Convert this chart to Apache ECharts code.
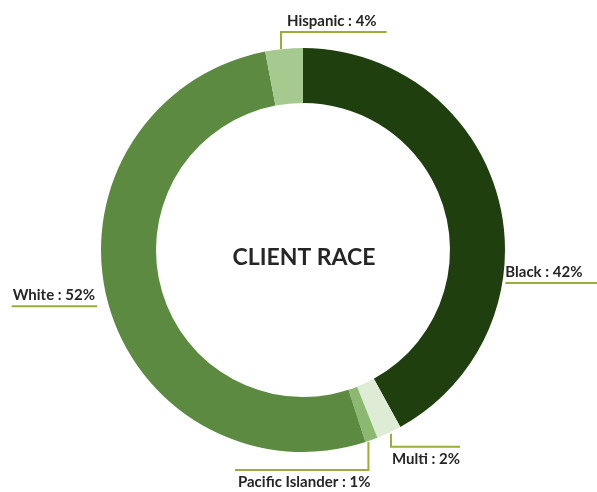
<!DOCTYPE html>
<html>
<head>
<meta charset="utf-8">
<script src="https://cdn.jsdelivr.net/npm/echarts@6/dist/echarts.min.js"></script>
<style>
  html, body { margin: 0; padding: 0; background: #fff; }
  #chart { width: 597px; height: 492px; }
</style>
</head>
<body>
<div id="chart"></div>
<script>
// data
const races = ['Black', 'Multi', 'Pacific Islander', 'White', 'Hispanic']
// slice sizes as measured on the ring, percent labels as printed
const sliceValues = [42, 2, 1, 52, 3]
const shareLabels = ['42%', '2%', '1%', '52%', '4%']
const sliceColors = ['#1f3f0e', '#deecd5', '#8cb872', '#5b8a40', '#a6c98f']
const chartTitle = 'CLIENT RACE'

const CX = 303
const CY = 250
const R_IN = 147
const R_OUT = 202
const LINE_COLOR = '#9aad3e'
const FONT = 'Lato'

const total = sliceValues.reduce((s, v) => s + v, 0)

// point on the outer edge at the middle of slice i (clockwise from 12 o'clock)
function anchor(i) {
  let before = 0
  for (let k = 0; k < i; k++) before += sliceValues[k]
  const ang = ((before + sliceValues[i] / 2) / total) * Math.PI * 2
  return [CX + R_OUT * Math.sin(ang), CY - R_OUT * Math.cos(ang)]
}
function ringX(y, side) {
  return CX + side * Math.sqrt(R_OUT * R_OUT - (y - CY) * (y - CY))
}
function ringY(x) {
  return CY + Math.sqrt(R_OUT * R_OUT - (x - CX) * (x - CX))
}

// excel style labels: text sits on an underline, small slices get a leader
function placeLabel(p) {
  const a = anchor(p.dataIndex)
  const w = p.labelRect.width
  const name = races[p.dataIndex]
  if (name === 'Hispanic') {
    const vx = a[0] - 3
    const ly = 32
    return {
      x: vx + 6, y: ly - 11, align: 'left', verticalAlign: 'middle',
      labelLinePoints: [[vx, a[1]], [vx, ly], [vx + w + 16, ly]],
    }
  }
  if (name === 'Black') {
    const ly = CY + 33
    const x0 = ringX(ly, 1) + 3
    return {
      x: x0, y: ly - 11, align: 'left', verticalAlign: 'middle',
      labelLinePoints: [[x0, ly], [x0 + w + 16, ly]],
    }
  }
  if (name === 'White') {
    const ly = a[1] + 6
    const x1 = ringX(ly, -1) - 12
    return {
      x: x1 - 2, y: ly - 11, align: 'right', verticalAlign: 'middle',
      labelLinePoints: [[x1 - w - 3, ly], [x1, ly]],
    }
  }
  if (name === 'Multi') {
    const vx = a[0] + 2
    const y0 = ringY(vx) + 2
    const ly = y0 + 13
    return {
      x: vx + 1, y: ly + 12, align: 'left', verticalAlign: 'middle',
      labelLinePoints: [[vx, y0], [vx, ly], [vx + w + 1, ly]],
    }
  }
  // Pacific Islander
  const vx = a[0] - 3
  const y0 = ringY(vx) + 1
  const ly = y0 + 28
  return {
    x: vx + 2, y: ly + 12, align: 'right', verticalAlign: 'middle',
    labelLinePoints: [[vx, y0], [vx, ly], [vx - w - 1, ly]],
  }
}

const chart = echarts.init(document.getElementById('chart'))
chart.setOption({
  animation: false,
  backgroundColor: '#fff',
  title: {
    text: chartTitle,
    left: CX - 4,
    top: 253,
    textAlign: 'center',
    textVerticalAlign: 'middle',
    textStyle: {
      fontFamily: FONT,
      fontWeight: 'bold',
      fontSize: 23,
      color: '#262626',
    },
  },
  series: [
    {
      type: 'pie',
      center: [CX, CY],
      radius: [R_IN, R_OUT],
      startAngle: 90,
      clockwise: true,
      avoidLabelOverlap: false,
      data: races.map((name, i) => ({
        name: name,
        value: sliceValues[i],
        itemStyle: { color: sliceColors[i] },
      })),
      label: {
        show: true,
        position: 'outside',
        formatter: (p) => p.name + ' : ' + shareLabels[p.dataIndex],
        fontFamily: FONT,
        fontWeight: 'bold',
        fontSize: 15,
        color: '#262626',
      },
      labelLine: {
        show: true,
        length: 10,
        length2: 10,
        lineStyle: { color: LINE_COLOR, width: 2 },
      },
      labelLayout: placeLabel,
      emphasis: { disabled: true },
    },
  ],
})
</script>
</body>
</html>
